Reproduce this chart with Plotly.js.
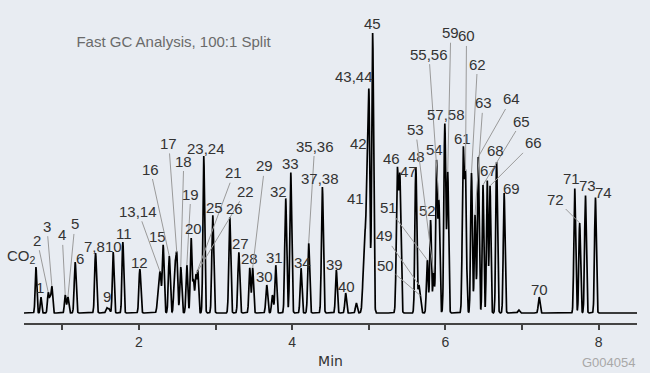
<!DOCTYPE html>
<html><head><meta charset="utf-8">
<script src="https://cdn.plot.ly/plotly-3.0.1.min.js"></script>
<style>html,body{margin:0;padding:0;background:#fff;overflow:hidden}#chart{width:650px;height:373px}</style>
</head><body><div id="chart"></div>
<script>
// Peak table (retention time in min, relative height, peak width sigma in min)
const peakNames = ['CO<sub>2</sub>','1','2','','3','4','5','6','7,8','9','','10','11','12','','13,14','15','16','','17','18','19','20','','22','21','23,24','25','26','27','28','29','30','','31','32','33','34','35,36','37,38','39','40','','41','42','43,44','45','46','47','48','49','50','51','52','53','54','55,56','57,58','59','61','60','62','63','64','65','67','66','68','69','','70','71','72','73','74'];
const peakTimes = [0.656,0.721,0.816,0.840,0.864,1.038,1.073,1.168,1.434,1.581,1.610,1.664,1.790,2.012,2.255,2.278,2.316,2.396,2.468,2.494,2.546,2.625,2.681,2.712,2.742,2.768,2.846,2.963,3.185,3.303,3.446,3.484,3.668,3.742,3.785,3.915,3.981,4.115,4.215,4.394,4.576,4.698,4.837,4.945,4.978,5.002,5.050,5.372,5.405,5.614,5.653,5.675,5.763,5.806,5.845,5.884,5.915,5.992,6.030,6.232,6.262,6.340,6.386,6.428,6.490,6.545,6.582,6.668,6.766,6.957,7.223,7.687,7.752,7.827,7.957];
const peakHeights = [46,16,20,14,26,18,16,51,60,5,4,61,71,44,24,34,68,57,48,56,46,48,75,32,37,42,157,98,96,61,45,45,28,18,48,115,141,45,70,126,43,20,10,78,115,205,280,140,134,146,26,15,53,93,40,151,110,189,140,160,135,140,98,156,128,133,127,151,120,3,16,125,90,118,116];
const peakWidths = [0.010,0.009,0.010,0.010,0.010,0.010,0.011,0.012,0.012,0.012,0.012,0.011,0.011,0.012,0.014,0.012,0.012,0.012,0.012,0.011,0.012,0.011,0.011,0.010,0.010,0.010,0.011,0.012,0.012,0.012,0.011,0.011,0.012,0.011,0.011,0.012,0.012,0.011,0.012,0.012,0.011,0.011,0.011,0.018,0.012,0.012,0.012,0.013,0.013,0.012,0.010,0.010,0.011,0.011,0.010,0.011,0.011,0.012,0.011,0.012,0.012,0.011,0.010,0.011,0.010,0.010,0.010,0.011,0.011,0.012,0.011,0.011,0.011,0.011,0.011];
const xTickValues = [2,4,6,8];
const xTickLabels = ['2','4','6','8'];
const chartTitle = 'Fast GC Analysis, 100:1 Split';
const xTitle = 'Min';
const figureCode = 'G004054';

// label placement (pixel offset of label centre from the peak top; true = leader line)
const labelPlacement = {
 'CO<sub>2</sub>':[-14,-11,false],'1':[-1,-10,false],'2':[-11,-52,true],'3':[-5,-60,true],'4':[-3,-60,true],'5':[7,-73,true],
 '6':[5,-4,false],'7,8':[-1,-7,false],'9':[0,-11,false],'10':[0,-6,false],'11':[1,-9,false],'12':[0,-7,false],
 '13,14':[-22,-61,true],'15':[-6,-8,false],'16':[-19,-87,true],'17':[-8,-109,true],'18':[3,-106,true],'19':[4,-71,true],
 '20':[2,-9,false],'21':[36,-97,true],'22':[50,-83,true],'23,24':[2,-8,false],'25':[2,-8,false],'26':[5,-9,false],
 '27':[2,-9,false],'28':[0,-9,false],'29':[12,-102,true],'30':[-2,-9,false],'31':[-1,-7,false],'32':[-7,-7,false],
 '33':[0,-9,false],'34':[1,-6,false],'35,36':[6,-97,true],'37,38':[-2,-9,false],'39':[-2,-6,false],'40':[1,-7,false],
 '41':[-9,-34,false],'42':[-9,-12,false],'43,44':[-15,-15,false],'45':[0,-9,false],'46':[-6,-9,false],'47':[9,-2,false],
 '48':[1,-10,false],'49':[-34,-49,true],'50':[-35,-30,true],'51':[-39,-52,true],'52':[-3,-9,false],'53':[-18,-143,true],
 '54':[-2,-10,false],'55,56':[-10,-146,true],'57,58':[1,-9,false],'59':[3,-139,true],'60':[1,-135,true],'61':[-1,-9,false],
 '62':[6,-109,true],'63':[8,-112,true],'64':[33,-58,true],'65':[39,-64,true],'66':[43,-43,true],'67':[1,-9,false],
 '68':[-1,-12,false],'69':[7,-5,false],'70':[0,-8,false],'71':[-3,-10,false],'72':[-24,-24,true],'73':[2,-10,false],'74':[8,-5,false]
};

// build chromatogram trace from the peak table
function signalAt(t) {
  let s = 0;
  for (let j = 0; j < peakTimes.length; j++) {
    const d = (t - peakTimes[j]) / peakWidths[j];
    if (Math.abs(d) < 8) s += peakHeights[j] * Math.exp(-0.5 * d * d);
  }
  return s;
}
const tx = [], ty = [];
for (let k = 0; k <= 4000; k++) { const t = 0.5 + k * 0.002; tx.push(t); ty.push(signalAt(t)); }

const labelFont = {family:'Liberation Sans, Arial, sans-serif', size:15, color:'#333333'};
const annotations = [];
peakNames.forEach((name, i) => {
  if (!name) return;
  const p = labelPlacement[name];
  const a = {x: peakTimes[i], y: signalAt(peakTimes[i]), xref:'x', yref:'y', text:name, font:labelFont};
  if (p[2]) {
    Object.assign(a, {showarrow:true, arrowhead:0, arrowwidth:1, arrowcolor:'#9a9a9a', ax:p[0], ay:p[1], standoff:0, startstandoff:0});
  } else {
    Object.assign(a, {showarrow:false, xanchor:'center', yanchor:'middle', xshift:p[0], yshift:-p[1]});
  }
  annotations.push(a);
});
annotations.push({xref:'paper', yref:'paper', x:1.002, y:-0.128, xanchor:'right', yanchor:'middle', showarrow:false,
  text:figureCode, font:{family:'Liberation Sans, Arial, sans-serif', size:13, color:'#a8a8a8'}});

const layout = {
  width:650, height:373,
  margin:{l:24, r:13, t:13, b:50},
  paper_bgcolor:'#e8ecf2', plot_bgcolor:'#e8ecf2',
  showlegend:false,
  title:{text:chartTitle, xref:'paper', x:0.244, xanchor:'center', yref:'container', y:0.888, yanchor:'middle',
    font:{family:'Liberation Sans, Arial, sans-serif', size:15, color:'#6a6a6a'}},
  xaxis:{range:[0.5,8.5], tickvals:xTickValues, ticktext:xTickLabels, ticks:'outside', ticklen:5, tickwidth:2, tickcolor:'#444',
    minor:{dtick:1, tick0:0, ticks:'outside', ticklen:5, tickwidth:2, tickcolor:'#444', showgrid:false},
    showline:true, linecolor:'#444', linewidth:2, showgrid:false, zeroline:false,
    tickfont:{family:'Liberation Sans, Arial, sans-serif', size:14, color:'#333'},
    title:{text:xTitle, standoff:7, font:{family:'DejaVu Sans, sans-serif', size:14, color:'#333'}}},
  yaxis:{range:[-10,300], visible:false, showgrid:false, zeroline:false},
  annotations:annotations
};
Plotly.newPlot('chart', [{x:tx, y:ty, type:'scatter', mode:'lines', line:{color:'#000', width:1.7}, hoverinfo:'skip'}], layout, {staticPlot:true, displayModeBar:false});
</script></body></html>
